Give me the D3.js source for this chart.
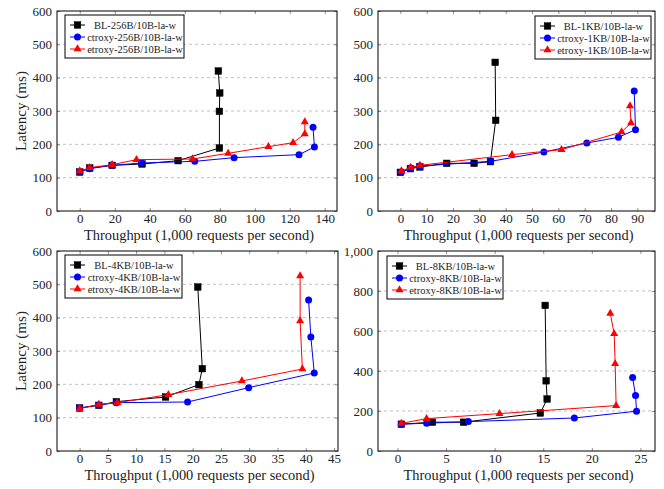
<!DOCTYPE html>
<html><head><meta charset="utf-8">
<script src="https://cdn.jsdelivr.net/npm/d3@7"></script>
<style>
body{margin:0;background:#fff;}
text{font-family:"Liberation Serif","DejaVu Serif",serif;fill:#222;}
</style></head>
<body><svg id="c" width="664" height="489"></svg>
<script>
// ---- Data ----
const bl256x = [0, 5.7, 18.5, 35.6, 56.2, 79.8, 79.8, 80.0, 79.2];
const bl256y = [117, 129, 137, 141, 151, 189, 299, 354, 420];
const ct256x = [0, 5.7, 18.5, 35.2, 65.7, 88.2, 125.3, 134.1, 133.3];
const ct256y = [117, 127, 137, 144, 149, 160, 169, 192, 251];
const et256x = [0, 5.7, 18.5, 32.4, 64.4, 84.8, 107.8, 121.9, 128.6, 128.6];
const et256y = [120, 130, 139, 154, 156, 173, 193, 205, 231, 267];

const bl1kx = [0, 3.8, 7.4, 17.6, 28.0, 34.2, 36.2, 36.0];
const bl1ky = [116, 127, 132, 143, 143, 148, 272, 446];
const ct1kx = [0.4, 3.8, 7.4, 34.3, 54.5, 70.8, 82.8, 89.3, 88.8];
const ct1ky = [117, 129, 135, 149, 177, 204, 221, 244, 360];
const et1kx = [0.4, 3.9, 7.4, 42.4, 61.2, 84.0, 87.6, 87.2];
const et1ky = [120, 131, 137, 169, 184, 237, 264, 315];

const bl4kx = [0, 3.4, 6.5, 15.2, 21.1, 21.7, 20.9];
const bl4ky = [129, 137, 148, 162, 199, 247, 492];
const ct4kx = [0, 3.4, 6.5, 19.1, 29.9, 41.5, 40.9, 40.5];
const ct4ky = [129, 138, 145, 147, 190, 234, 342, 453];
const et4kx = [0, 3.4, 6.7, 15.7, 28.7, 39.4, 39.0, 39.0];
const et4ky = [127, 140, 145, 169, 210, 246, 390, 525];

const bl8kx = [0.4, 3.6, 6.8, 14.7, 15.4, 15.3, 15.2];
const bl8ky = [134, 144, 144, 190, 260, 351, 728];
const ct8kx = [0.4, 3.0, 7.3, 18.2, 24.6, 24.5, 24.2];
const ct8ky = [134, 139, 147, 165, 199, 277, 367];
const et8kx = [0.4, 3.0, 10.5, 22.5, 22.4, 22.3, 21.9];
const et8ky = [138, 162, 187, 227, 436, 586, 688];

const names256 = ["BL-256B/10B-la-w", "ctroxy-256B/10B-la-w", "etroxy-256B/10B-la-w"];
const names1k = ["BL-1KB/10B-la-w", "ctroxy-1KB/10B-la-w", "etroxy-1KB/10B-la-w"];
const names4k = ["BL-4KB/10B-la-w", "ctroxy-4KB/10B-la-w", "etroxy-4KB/10B-la-w"];
const names8k = ["BL-8KB/10B-la-w", "ctroxy-8KB/10B-la-w", "etroxy-8KB/10B-la-w"];

const xTicks256 = [0, 20, 40, 60, 80, 100, 120, 140];
const xTicks1k = [0, 10, 20, 30, 40, 50, 60, 70, 80, 90];
const xTicks4k = [0, 5, 10, 15, 20, 25, 30, 35, 40, 45];
const xTicks8k = [0, 5, 10, 15, 20, 25];
const yTicks600 = [0, 100, 200, 300, 400, 500, 600];
const yTicks1000 = [0, 200, 400, 600, 800, 1000];

const xTitle = "Throughput (1,000 requests per second)";
const yTitle = "Latency (ms)";

// ---- Layout ----
const colors = ["#000000", "#0000ff", "#ff0000"];
const shapes = ["square", "circle", "triangle"];
const zip = (a, b) => a.map((v, i) => [v, b[i]]);

const panels = [
  {x0: 57, x1: 337, y0: 11, y1: 211, xd: [-13, 147], yd: [0, 600], xt: xTicks256, yt: yTicks600,
   series: [zip(bl256x, bl256y), zip(ct256x, ct256y), zip(et256x, et256y)], names: names256,
   leg: {x: 65, y: 15, w: 119}, ylab: true},
  {x0: 378, x1: 655, y0: 11, y1: 211, xd: [-8.5, 96.7], yd: [0, 600], xt: xTicks1k, yt: yTicks600,
   series: [zip(bl1kx, bl1ky), zip(ct1kx, ct1ky), zip(et1kx, et1ky)], names: names1k,
   leg: {x: 535, y: 16, w: 116}, ylab: false},
  {x0: 57, x1: 338, y0: 251, y1: 451, xd: [-4, 45.7], yd: [0, 600], xt: xTicks4k, yt: yTicks600,
   series: [zip(bl4kx, bl4ky), zip(ct4kx, ct4ky), zip(et4kx, et4ky)], names: names4k,
   leg: {x: 65, y: 255, w: 117}, ylab: true},
  {x0: 378, x1: 655, y0: 251, y1: 451, xd: [-2, 26.5], yd: [0, 1000], xt: xTicks8k, yt: yTicks1000,
   series: [zip(bl8kx, bl8ky), zip(ct8kx, ct8ky), zip(et8kx, et8ky)], names: names8k,
   leg: {x: 387, y: 256, w: 116}, ylab: false},
];

const svg = d3.select("#c");
const fmt = d3.format(",");

function marker(g, shape, color, x, y) {
  if (shape === "square") {
    g.append("rect").attr("x", x - 3.3).attr("y", y - 3.3).attr("width", 6.6).attr("height", 6.6)
      .attr("fill", color).attr("stroke", color).attr("stroke-width", 0.5);
  } else if (shape === "circle") {
    g.append("circle").attr("cx", x).attr("cy", y).attr("r", 3.5).attr("fill", color);
  } else {
    const s = d3.symbol().type(d3.symbolTriangle).size(28);
    g.append("path").attr("d", s()).attr("transform", `translate(${x},${y})`).attr("fill", color);
  }
}

panels.forEach(p => {
  const x = d3.scaleLinear().domain(p.xd).range([p.x0, p.x1]);
  const y = d3.scaleLinear().domain(p.yd).range([p.y1, p.y0]);
  const g = svg.append("g");

  // grid
  g.selectAll(".grid").data(p.yt.filter(v => v > p.yd[0] && v < p.yd[1])).join("line")
    .attr("x1", p.x0).attr("x2", p.x1).attr("y1", d => y(d)).attr("y2", d => y(d))
    .attr("stroke", "#b0b0b0").attr("stroke-width", 0.8).attr("stroke-dasharray", "3,3");

  // axes (ticks inward)
  const ax = d3.axisBottom(x).tickValues(p.xt).tickSize(-3).tickPadding(3).tickFormat(fmt);
  const gx = g.append("g").attr("transform", `translate(0,${p.y1})`).call(ax);
  const axT = d3.axisTop(x).tickValues(p.xt).tickSize(-3).tickFormat("");
  const gxt = g.append("g").attr("transform", `translate(0,${p.y0})`).call(axT);
  const ay = d3.axisLeft(y).tickValues(p.yt).tickSize(-3).tickPadding(5).tickFormat(fmt);
  const gy = g.append("g").attr("transform", `translate(${p.x0},0)`).call(ay);
  const ayR = d3.axisRight(y).tickValues(p.yt).tickSize(-3).tickFormat("");
  const gyr = g.append("g").attr("transform", `translate(${p.x1},0)`).call(ayR);
  gxt.selectAll("text").remove();
  gyr.selectAll("text").remove();
  [gx, gxt, gy, gyr].forEach(a => {
    a.select(".domain").remove();
    a.selectAll(".tick line").attr("stroke", "#777").attr("stroke-width", 0.8);
    a.selectAll("text").attr("font-family", "Liberation Serif").attr("font-size", 13).attr("fill", "#222");
  });

  // frame
  g.append("rect").attr("x", p.x0).attr("y", p.y0).attr("width", p.x1 - p.x0).attr("height", p.y1 - p.y0)
    .attr("fill", "none").attr("stroke", "#000").attr("stroke-width", 1);

  // series
  const line = d3.line().x(d => x(d[0])).y(d => y(d[1]));
  p.series.forEach((s, i) => {
    g.append("path").attr("d", line(s)).attr("fill", "none").attr("stroke", colors[i]).attr("stroke-width", 1);
    s.forEach(d => marker(g, shapes[i], colors[i], x(d[0]), y(d[1])));
  });

  // titles
  const cx = (p.x0 + p.x1) / 2 + 2;
  g.append("text").attr("x", cx).attr("y", p.y1 + 28.5).attr("text-anchor", "middle")
    .attr("font-size", 14).attr("textLength", 230).attr("lengthAdjust", "spacingAndGlyphs").text(xTitle);
  if (p.ylab) {
    g.append("text").attr("transform", `translate(26,${(p.y0 + p.y1) / 2}) rotate(-90)`)
      .attr("text-anchor", "middle").attr("font-size", 14.5)
      .attr("textLength", 80).attr("lengthAdjust", "spacingAndGlyphs").text(yTitle);
  }

  // legend
  const L = p.leg, lh = 43;
  const lg = g.append("g");
  lg.append("rect").attr("x", L.x).attr("y", L.y).attr("width", L.w).attr("height", lh)
    .attr("fill", "#fff").attr("stroke", "#000").attr("stroke-width", 1);
  p.names.forEach((n, i) => {
    const yy = L.y + 10 + i * 12;
    lg.append("line").attr("x1", L.x + 5).attr("x2", L.x + 20).attr("y1", yy).attr("y2", yy)
      .attr("stroke", colors[i]).attr("stroke-width", 1);
    marker(lg, shapes[i], colors[i], L.x + 12.5, yy);
    lg.append("text").attr("x", (L.x + 23 + L.x + L.w - 2) / 2).attr("y", yy + 3.5)
      .attr("text-anchor", "middle").attr("font-size", 10.5).text(n);
  });
});
</script></body></html>
